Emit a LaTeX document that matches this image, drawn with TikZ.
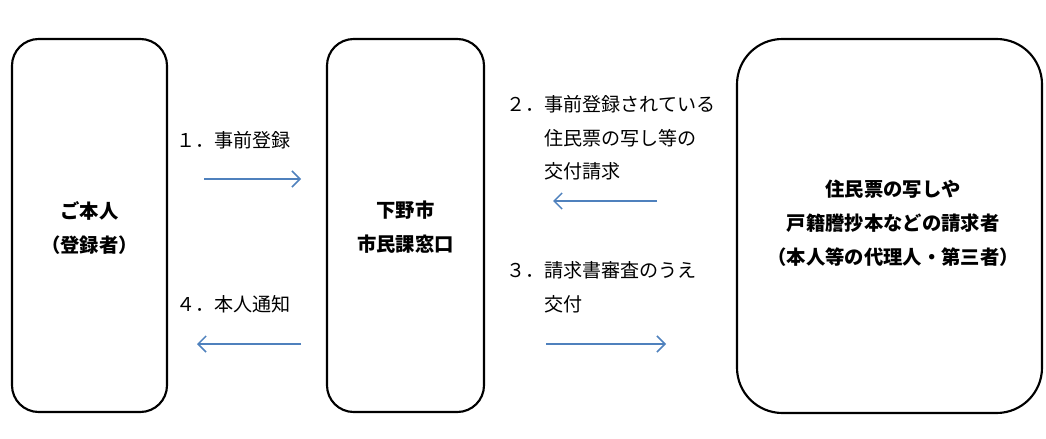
\documentclass[tikz,border=0pt]{standalone}
\usepackage{fontspec}
\setmainfont{Noto Sans CJK JP}
\usetikzlibrary{arrows.meta}
\definecolor{arrowblue}{HTML}{4F81BD}
\tikzset{
  party/.style={draw=black, line width=1.6pt, rounded corners=#1},
  boxtext/.style={align=center, font=\fontsize{14.5}{25.5}\selectfont\bfseries},
  lbl/.style={anchor=west, align=left, inner sep=0pt, font=\fontsize{14.3}{25.3}\selectfont},
  flow/.style={draw=arrowblue, line width=1.1pt, -{Straight Barb[length=6pt,width=12pt,line width=1.1pt]}}
}
\begin{document}
\begin{tikzpicture}[x=0.75pt,y=-0.75pt]
\useasboundingbox (0,0) rectangle (1046,439);
% boxes
\draw[party=20pt] (12,39) rectangle (167,412);
\draw[party=20pt] (327,39) rectangle (484,412);
\draw[party=34pt] (737,39) rectangle (1042,413);
\node[boxtext] (self) at (89.5,228) {ご本人\\（登録者）};
\node[boxtext] (office) at (405.5,227) {下野市\\市民課窓口};
\node[boxtext] (req) at (893,223) {住民票の写しや\\戸籍謄抄本などの請求者\\（本人等の代理人・第三者）};
% labels
\node[lbl] (l1) at (176,140) {１．事前登録};
\node[lbl, anchor=north west] (l2) at (506,95) {２．事前登録されている\\\hphantom{２．}住民票の写し等の\\\hphantom{２．}交付請求};
\node[lbl, anchor=north west] (l3) at (506,261) {３．請求書審査のうえ\\\hphantom{３．}交付};
\node[lbl] (l4) at (176,304) {４．本人通知};
% arrows
\coordinate (a1s) at (204,179); \coordinate (a1e) at (301,179);
\coordinate (a2s) at (657,201); \coordinate (a2e) at (553,201);
\coordinate (a3s) at (546,344); \coordinate (a3e) at (666,344);
\coordinate (a4s) at (301,344); \coordinate (a4e) at (197,344);
\draw[flow] (a1s) -- (a1e);
\draw[flow] (a2s) -- (a2e);
\draw[flow] (a3s) -- (a3e);
\draw[flow] (a4s) -- (a4e);
\end{tikzpicture}
\end{document}
